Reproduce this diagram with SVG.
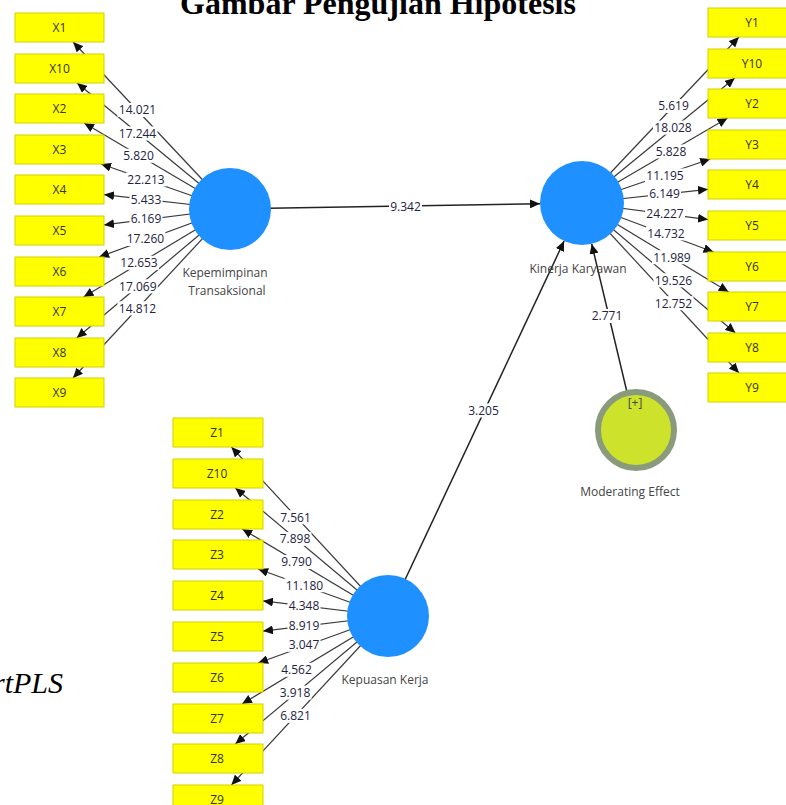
<svg xmlns="http://www.w3.org/2000/svg" width="786" height="805" viewBox="0 0 786 805">
<defs>
<marker id="ah" markerUnits="userSpaceOnUse" markerWidth="11" markerHeight="9" refX="10" refY="4.5" orient="auto" viewBox="0 0 11 9"><path d="M0,0 L10,4.5 L0,9 z" fill="#111"/></marker>
<style>
.ind{stroke:#3a3a3a;stroke-width:1.2;fill:none;marker-end:url(#ah)}
.str{stroke:#222;stroke-width:1.5;fill:none;marker-end:url(#ah)}
.lbl rect{fill:#fff}
.lbl text{font-family:"Open Sans","Noto Sans",sans-serif;font-size:12px;fill:#23233f;text-anchor:middle}
.box rect{fill:#ffff00;stroke:#d2d200;stroke-width:1}
.box text{font-family:"Open Sans","Noto Sans",sans-serif;font-size:12px;fill:#333;text-anchor:middle}
.lv circle{fill:#1e90ff}
.nm{font-family:"Open Sans","Noto Sans",sans-serif;font-size:12px;fill:#444;text-anchor:middle}
</style>
</defs>
<rect width="786" height="805" fill="#fff"/>
<text x="378" y="14" font-family="Liberation Serif, serif" font-weight="bold" font-size="32" text-anchor="middle" fill="#000">Gambar Pengujian Hipotesis</text>
<text x="63" y="693" font-family="Liberation Serif, serif" font-style="italic" font-size="30" text-anchor="end" fill="#000">rtPLS</text>
<g id="connectors">
<line class="ind" x1="230" y1="209" x2="73.1" y2="42"/>
<line class="ind" x1="230" y1="209" x2="77.1" y2="83"/>
<line class="ind" x1="230" y1="209" x2="84.1" y2="123"/>
<line class="ind" x1="230" y1="209" x2="101.1" y2="164"/>
<line class="ind" x1="230" y1="209" x2="104" y2="194.6"/>
<line class="ind" x1="230" y1="209" x2="104" y2="224.9"/>
<line class="ind" x1="230" y1="209" x2="99.1" y2="257"/>
<line class="ind" x1="230" y1="209" x2="83.6" y2="297"/>
<line class="ind" x1="230" y1="209" x2="76.7" y2="338"/>
<line class="ind" x1="230" y1="209" x2="73" y2="378"/>
<line class="ind" x1="582" y1="203" x2="738.9" y2="37"/>
<line class="ind" x1="582" y1="203" x2="734.8" y2="78"/>
<line class="ind" x1="582" y1="203" x2="727.6" y2="118"/>
<line class="ind" x1="582" y1="203" x2="710.2" y2="159"/>
<line class="ind" x1="582" y1="203" x2="708" y2="189.3"/>
<line class="ind" x1="582" y1="203" x2="708" y2="219.6"/>
<line class="ind" x1="582" y1="203" x2="713.6" y2="252"/>
<line class="ind" x1="582" y1="203" x2="728.6" y2="292"/>
<line class="ind" x1="582" y1="203" x2="735.4" y2="333"/>
<line class="ind" x1="582" y1="203" x2="739" y2="373"/>
<line class="ind" x1="388" y1="616" x2="231.4" y2="447"/>
<line class="ind" x1="388" y1="616" x2="235.3" y2="488"/>
<line class="ind" x1="388" y1="616" x2="242.3" y2="529"/>
<line class="ind" x1="388" y1="616" x2="258.1" y2="569"/>
<line class="ind" x1="388" y1="616" x2="263" y2="600.9"/>
<line class="ind" x1="388" y1="616" x2="263" y2="631.1"/>
<line class="ind" x1="388" y1="616" x2="258.1" y2="663"/>
<line class="ind" x1="388" y1="616" x2="242" y2="704"/>
<line class="ind" x1="388" y1="616" x2="235.3" y2="744"/>
<line class="ind" x1="388" y1="616" x2="231.4" y2="785"/>
<line class="str" x1="230" y1="209" x2="540" y2="203.7"/>
<line class="str" x1="388" y1="616" x2="564.1" y2="241"/>
<line class="str" x1="636" y1="430" x2="591.7" y2="243.9"/>
<g class="lbl">
<rect x="117.5" y="103" width="40" height="14"/><text x="137.5" y="114.3">14.021</text>
<rect x="117.5" y="126.5" width="40" height="14"/><text x="137.5" y="137.8">17.244</text>
<rect x="122" y="148.8" width="33" height="14"/><text x="138.5" y="160.1">5.820</text>
<rect x="126" y="172.5" width="40" height="14"/><text x="146" y="183.8">22.213</text>
<rect x="129.5" y="193" width="33" height="14"/><text x="146" y="204.3">5.433</text>
<rect x="129.5" y="211.8" width="33" height="14"/><text x="146" y="223.1">6.169</text>
<rect x="125.4" y="232" width="40" height="14"/><text x="145.4" y="243.3">17.260</text>
<rect x="119" y="255.8" width="40" height="14"/><text x="139" y="267.1">12.653</text>
<rect x="117.8" y="279.3" width="40" height="14"/><text x="137.8" y="290.6">17.069</text>
<rect x="117.5" y="301.3" width="40" height="14"/><text x="137.5" y="312.6">14.812</text>
<rect x="657" y="99" width="33" height="14"/><text x="673.5" y="110.3">5.619</text>
<rect x="653" y="120.6" width="40" height="14"/><text x="673" y="131.9">18.028</text>
<rect x="654.5" y="144.5" width="33" height="14"/><text x="671" y="155.8">5.828</text>
<rect x="645" y="168.5" width="40" height="14"/><text x="665" y="179.8">11.195</text>
<rect x="648" y="186.9" width="33" height="14"/><text x="664.5" y="198.2">6.149</text>
<rect x="645" y="207" width="40" height="14"/><text x="665" y="218.3">24.227</text>
<rect x="646" y="226.4" width="40" height="14"/><text x="666" y="237.7">14.732</text>
<rect x="652" y="250.2" width="40" height="14"/><text x="672" y="261.5">11.989</text>
<rect x="653.5" y="273.3" width="40" height="14"/><text x="673.5" y="284.6">19.526</text>
<rect x="653.5" y="296.2" width="40" height="14"/><text x="673.5" y="307.5">12.752</text>
<rect x="279" y="510.2" width="33" height="14"/><text x="295.5" y="521.5">7.561</text>
<rect x="278.5" y="531.9" width="33" height="14"/><text x="295" y="543.2">7.898</text>
<rect x="280" y="555" width="33" height="14"/><text x="296.5" y="566.3">9.790</text>
<rect x="284.4" y="578.2" width="40" height="14"/><text x="304.4" y="589.5">11.180</text>
<rect x="287.5" y="598.5" width="33" height="14"/><text x="304" y="609.8">4.348</text>
<rect x="287.5" y="619" width="33" height="14"/><text x="304" y="630.3">8.919</text>
<rect x="287.5" y="637.8" width="33" height="14"/><text x="304" y="649.1">3.047</text>
<rect x="280" y="662.8" width="33" height="14"/><text x="296.5" y="674.1">4.562</text>
<rect x="278.5" y="685.6" width="33" height="14"/><text x="295" y="696.9">3.918</text>
<rect x="279" y="708.8" width="33" height="14"/><text x="295.5" y="720.1">6.821</text>
<rect x="389" y="199.5" width="33" height="14"/><text x="405.5" y="210.8">9.342</text>
<rect x="467" y="403.5" width="33" height="14"/><text x="483.5" y="414.8">3.205</text>
<rect x="590.5" y="309" width="33" height="14"/><text x="607" y="320.3">2.771</text>
</g>
</g>
<g id="X1" class="box"><rect x="15" y="13" width="89" height="29"/><text x="59.5" y="31.8">X1</text></g>
<g id="X10" class="box"><rect x="15" y="54" width="89" height="29"/><text x="59.5" y="72.8">X10</text></g>
<g id="X2" class="box"><rect x="15" y="94" width="89" height="29"/><text x="59.5" y="112.8">X2</text></g>
<g id="X3" class="box"><rect x="15" y="135" width="89" height="29"/><text x="59.5" y="153.8">X3</text></g>
<g id="X4" class="box"><rect x="15" y="175" width="89" height="29"/><text x="59.5" y="193.8">X4</text></g>
<g id="X5" class="box"><rect x="15" y="216" width="89" height="29"/><text x="59.5" y="234.8">X5</text></g>
<g id="X6" class="box"><rect x="15" y="257" width="89" height="29"/><text x="59.5" y="275.8">X6</text></g>
<g id="X7" class="box"><rect x="15" y="297" width="89" height="29"/><text x="59.5" y="315.8">X7</text></g>
<g id="X8" class="box"><rect x="15" y="338" width="89" height="29"/><text x="59.5" y="356.8">X8</text></g>
<g id="X9" class="box"><rect x="15" y="378" width="89" height="29"/><text x="59.5" y="396.8">X9</text></g>
<g id="Y1" class="box"><rect x="708" y="8" width="89" height="29"/><text x="752" y="26.8">Y1</text></g>
<g id="Y10" class="box"><rect x="708" y="49" width="89" height="29"/><text x="752" y="67.8">Y10</text></g>
<g id="Y2" class="box"><rect x="708" y="89" width="89" height="29"/><text x="752" y="107.8">Y2</text></g>
<g id="Y3" class="box"><rect x="708" y="130" width="89" height="29"/><text x="752" y="148.8">Y3</text></g>
<g id="Y4" class="box"><rect x="708" y="170" width="89" height="29"/><text x="752" y="188.8">Y4</text></g>
<g id="Y5" class="box"><rect x="708" y="211" width="89" height="29"/><text x="752" y="229.8">Y5</text></g>
<g id="Y6" class="box"><rect x="708" y="252" width="89" height="29"/><text x="752" y="270.8">Y6</text></g>
<g id="Y7" class="box"><rect x="708" y="292" width="89" height="29"/><text x="752" y="310.8">Y7</text></g>
<g id="Y8" class="box"><rect x="708" y="333" width="89" height="29"/><text x="752" y="351.8">Y8</text></g>
<g id="Y9" class="box"><rect x="708" y="373" width="89" height="29"/><text x="752" y="391.8">Y9</text></g>
<g id="Z1" class="box"><rect x="173" y="418" width="90" height="29"/><text x="217" y="436.8">Z1</text></g>
<g id="Z10" class="box"><rect x="173" y="459" width="90" height="29"/><text x="217" y="477.8">Z10</text></g>
<g id="Z2" class="box"><rect x="173" y="500" width="90" height="29"/><text x="217" y="518.8">Z2</text></g>
<g id="Z3" class="box"><rect x="173" y="540" width="90" height="29"/><text x="217" y="558.8">Z3</text></g>
<g id="Z4" class="box"><rect x="173" y="581" width="90" height="29"/><text x="217" y="599.8">Z4</text></g>
<g id="Z5" class="box"><rect x="173" y="622" width="90" height="29"/><text x="217" y="640.8">Z5</text></g>
<g id="Z6" class="box"><rect x="173" y="663" width="90" height="29"/><text x="217" y="681.8">Z6</text></g>
<g id="Z7" class="box"><rect x="173" y="704" width="90" height="29"/><text x="217" y="722.8">Z7</text></g>
<g id="Z8" class="box"><rect x="173" y="744" width="90" height="29"/><text x="217" y="762.8">Z8</text></g>
<g id="Z9" class="box"><rect x="173" y="785" width="90" height="29"/><text x="217" y="803.8">Z9</text></g>
<g id="kepemimpinan" class="lv"><circle cx="230" cy="209" r="41"/><text class="nm" x="225" y="277">Kepemimpinan</text><text class="nm" x="227" y="295">Transaksional</text></g>
<g id="kinerja" class="lv"><circle cx="582" cy="203" r="42"/><text class="nm" x="578" y="273">Kinerja Karyawan</text></g>
<g id="kepuasan" class="lv"><circle cx="388" cy="616" r="41"/><text class="nm" x="385" y="684">Kepuasan Kerja</text></g>
<g id="moderating"><circle cx="636" cy="430" r="38" fill="#cde22a" stroke="#8a9a7c" stroke-width="6"/><text class="nm" x="635" y="407">[+]</text><text class="nm" x="630" y="496">Moderating Effect</text></g>
</svg>
